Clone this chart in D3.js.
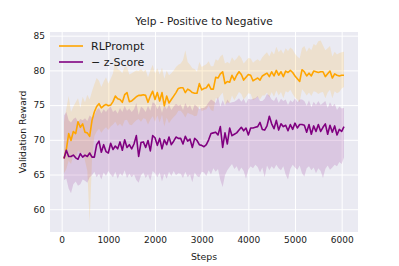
<!DOCTYPE html>
<html><head><meta charset="utf-8">
<script src="https://cdn.jsdelivr.net/npm/d3@7"></script>
<style>body{margin:0;background:#fff}svg{display:block}text{font-family:"DejaVu Sans",sans-serif;fill:#1a1a1a}</style>
</head><body><svg id="c" width="399" height="266"></svg>
<script>
const title = "Yelp - Positive to Negative";
const xLabel = "Steps";
const yLabel = "Validation Reward";
const xTicks = [0, 1000, 2000, 3000, 4000, 5000, 6000];
const yTicks = [60, 65, 70, 75, 80, 85];
const seriesNames = ["RLPrompt", "\u2212 z-Score"];
const steps = d3.range(50, 6051, 50);
const rlMean = [67.3,68.6,70.9,69.9,71.2,70.9,72.6,71.8,72.3,71.1,
71.0,70.5,72.8,74.0,74.8,75.2,74.6,74.9,75.1,74.9,
75.0,75.5,76.3,75.9,75.8,75.4,76.5,76.8,75.5,75.6,
75.9,76.2,76.4,76.4,76.5,76.4,75.4,76.3,77.0,75.8,
76.8,75.6,76.8,74.9,76.3,75.3,75.8,76.3,76.8,77.4,
77.5,77.5,76.8,77.3,77.1,76.8,76.7,76.7,78.1,77.2,
77.4,77.5,78.0,77.3,77.3,79.0,78.9,79.5,79.8,78.1,
78.4,78.3,79.3,78.6,79.3,79.8,79.4,78.6,79.0,79.4,
79.3,78.5,78.7,78.9,78.6,79.2,79.4,79.6,79.1,79.8,
79.2,80.0,79.3,79.8,79.1,79.9,79.7,80.0,79.7,79.2,
78.8,78.4,80.1,79.8,79.2,79.6,79.2,79.9,79.8,79.7,
79.8,79.8,79.1,79.5,79.9,78.9,79.5,79.3,79.2,79.3,
79.3];
const rlUpper = [72.5,74.5,76.3,74.0,74.8,75.4,76.0,74.6,76.2,75.4,
76.5,75.8,77.0,78.0,78.9,78.5,77.6,78.4,79.0,78.1,
78.8,79.6,81.5,80.2,80.0,79.6,80.6,80.5,79.4,79.6,
79.8,80.0,79.9,80.2,79.8,80.1,79.0,80.0,80.8,79.6,
80.3,79.4,80.4,78.8,80.0,79.3,79.6,80.0,80.5,80.8,
81.0,81.5,82.9,81.2,80.8,80.3,80.2,79.8,81.2,80.5,
80.7,80.9,81.3,80.6,80.6,81.6,81.4,82.0,82.3,81.0,
81.2,81.0,81.9,81.4,81.7,82.2,81.8,81.0,81.4,81.8,
81.7,81.1,81.4,81.6,81.3,81.9,82.3,82.6,82.0,82.8,
82.3,83.4,82.6,83.0,82.4,83.2,82.8,83.3,83.0,82.4,
82.0,81.7,83.2,83.5,82.7,83.3,82.9,83.8,83.6,84.2,
84.3,83.6,82.9,83.2,83.5,82.0,82.7,82.3,82.5,82.6,
82.7];
const rlLower = [65.2,65.8,67.0,66.5,67.8,67.2,68.5,68.0,68.2,67.0,
65.5,58.0,67.2,70.5,71.2,71.6,71.0,71.5,71.8,71.4,
71.9,72.2,72.6,72.0,72.3,71.9,72.8,72.9,72.2,72.1,
72.5,72.8,73.0,72.6,73.1,73.0,72.2,72.9,73.4,72.6,
73.5,72.5,73.6,71.9,73.2,72.4,72.9,73.3,73.6,74.2,
74.2,73.8,73.2,73.9,73.7,73.6,73.4,73.5,74.9,74.1,
74.3,74.4,74.9,74.3,74.1,76.0,75.9,76.4,76.8,75.0,
75.4,75.3,76.4,75.7,76.3,76.9,76.6,75.8,76.2,76.7,
76.6,75.7,75.9,76.2,75.8,76.4,76.4,76.8,76.1,76.9,
76.2,77.1,76.4,76.9,76.0,77.0,76.8,77.2,76.6,76.1,
75.8,75.4,77.3,76.9,76.4,76.8,76.3,77.0,76.9,76.6,
76.8,76.9,76.0,76.8,77.2,76.0,77.0,76.7,76.9,77.4,
77.6];
const zMean = [67.3,68.5,67.6,67.6,67.8,67.4,67.2,68.0,67.5,67.8,
67.6,68.1,67.5,67.5,69.3,69.8,68.2,69.3,68.3,68.1,
69.5,68.6,69.1,68.7,69.7,68.5,70.0,68.9,69.3,68.7,
69.4,70.6,67.6,69.6,69.7,68.9,69.9,68.4,70.6,70.3,
69.2,70.2,68.7,70.0,69.3,70.4,69.3,69.8,70.4,70.2,
70.2,69.4,70.5,69.8,70.1,68.9,70.2,69.9,69.3,69.2,
69.0,69.3,70.0,70.9,71.0,71.1,70.7,71.9,68.9,71.0,
69.4,71.7,70.6,70.8,71.0,71.4,71.8,71.3,71.7,70.7,
71.7,71.7,71.8,71.9,72.5,71.5,71.4,72.0,73.4,72.3,
71.6,72.8,71.4,72.3,71.9,72.1,71.3,72.2,71.5,72.4,
71.7,72.2,72.2,72.1,71.1,72.2,70.8,72.0,71.2,72.2,
71.2,71.8,72.3,70.8,72.1,71.1,72.0,70.7,71.5,71.2,
71.9];
const zUpper = [73.5,74.0,72.8,72.5,73.0,73.2,72.6,73.0,72.8,73.1,
72.7,73.5,73.2,73.5,74.3,74.6,73.8,74.4,74.0,74.5,
74.8,74.0,74.3,73.8,74.6,74.0,74.9,74.2,74.5,74.0,
74.4,75.3,73.6,74.8,74.5,74.0,74.9,74.2,75.4,75.2,
74.4,75.0,73.9,75.0,74.4,75.1,74.3,74.8,75.2,74.9,
75.1,74.3,75.3,74.6,75.0,74.2,75.1,74.8,74.4,74.6,
74.6,74.9,75.4,75.8,75.6,75.3,76.2,74.8,75.7,74.9,
75.8,75.3,75.4,75.5,75.7,76.0,75.5,75.9,75.2,75.9,
75.8,75.9,76.0,76.3,75.6,75.6,75.9,76.6,76.4,75.8,
75.6,76.2,75.3,75.9,75.6,75.8,75.0,75.7,75.4,76.0,
75.4,75.8,75.8,75.6,74.9,75.7,74.7,75.5,75.0,75.6,
75.0,75.3,75.6,74.6,75.4,74.8,75.2,74.3,74.8,74.5,
74.6];
const zLower = [64.2,64.4,63.0,62.3,63.6,64.0,63.4,63.6,64.3,64.1,
63.8,64.6,64.9,65.4,64.6,65.1,64.3,65.3,64.8,65.5,
65.0,64.6,65.4,64.4,65.2,64.8,65.6,64.5,65.1,64.6,
65.0,64.2,63.8,64.9,65.3,64.5,65.0,64.1,65.5,65.2,
64.6,65.3,64.0,65.1,64.4,65.4,64.8,65.5,64.9,65.2,
65.1,64.5,65.4,64.6,65.0,63.9,65.3,64.8,64.6,65.4,
65.3,64.8,65.6,65.0,65.9,65.4,65.8,64.2,63.2,64.9,
65.6,66.1,66.5,65.8,66.2,65.4,66.0,65.5,64.4,65.7,
66.2,65.9,66.4,66.1,65.3,66.0,64.6,66.3,65.6,66.2,
65.8,66.4,65.9,65.6,66.2,65.0,64.3,65.8,66.4,66.0,
65.7,66.3,65.2,64.7,65.9,66.2,65.6,66.0,65.2,65.9,
65.5,64.5,65.8,66.3,65.7,66.0,66.4,66.2,66.8,66.5,
67.5];

const colors = ["#ffa500", "#800080"];
const series = [
  {name: seriesNames[0], mean: rlMean, lo: rlLower, hi: rlUpper, color: colors[0]},
  {name: seriesNames[1], mean: zMean, lo: zLower, hi: zUpper, color: colors[1]}
];

const svg = d3.select("#c");
const L = 50, R = 358, T = 32, B = 232;
const x = d3.scaleLinear().domain([-250, 6350]).range([L, R]);
const y = d3.scaleLinear().domain([56.72, 85.53]).range([B, T]);

svg.append("rect").attr("x", L).attr("y", T).attr("width", R - L).attr("height", B - T).attr("fill", "#eaeaf2");

const gx = svg.append("g").attr("transform", `translate(0,${B})`)
  .call(d3.axisBottom(x).tickValues(xTicks).tickSize(-(B - T)).tickPadding(5).tickFormat(d3.format("d")));
const gy = svg.append("g").attr("transform", `translate(${L},0)`)
  .call(d3.axisLeft(y).tickValues(yTicks).tickSize(-(R - L)).tickPadding(5));
[gx, gy].forEach(g => {
  g.select(".domain").remove();
  g.selectAll(".tick line").attr("stroke", "#ffffff").attr("stroke-width", 1);
  g.selectAll(".tick text").attr("font-size", "9px").attr("fill", "#1a1a1a").style("font-family", "DejaVu Sans");
});
gy.selectAll(".tick text").attr("x", -5);

const clip = svg.append("clipPath").attr("id", "cp").append("rect")
  .attr("x", L).attr("y", T).attr("width", R - L).attr("height", B - T);
const plot = svg.append("g").attr("clip-path", "url(#cp)");

const area = d3.area().x((d, i) => x(steps[i])).y0(d => y(d[0])).y1(d => y(d[1]));
const line = d3.line().x((d, i) => x(steps[i])).y(d => y(d));

series.forEach(s => {
  plot.append("path").datum(s.lo.map((v, i) => [v, s.hi[i]]))
    .attr("d", area).attr("fill", s.color).attr("fill-opacity", 0.15).attr("stroke", "none");
});
series.forEach(s => {
  plot.append("path").datum(s.mean).attr("d", line)
    .attr("fill", "none").attr("stroke", s.color).attr("stroke-width", 1.6).attr("stroke-linejoin", "round");
});

// legend
series.forEach((s, i) => {
  const ly = 46 + i * 16;
  svg.append("line").attr("x1", 59).attr("x2", 83).attr("y1", ly).attr("y2", ly)
    .attr("stroke", s.color).attr("stroke-width", 1.6);
  svg.append("text").attr("x", 91).attr("y", ly + 4).attr("font-size", "11px").text(s.name);
});

svg.append("text").attr("x", (L + R) / 2).attr("y", 25).attr("text-anchor", "middle")
  .attr("font-size", "10.6px").text(title);
svg.append("text").attr("x", (L + R) / 2).attr("y", 259.5).attr("text-anchor", "middle")
  .attr("font-size", "9.4px").text(xLabel);
svg.append("text").attr("transform", `translate(22.5,132) rotate(-90)`).attr("text-anchor", "middle")
  .attr("dy", "0.35em").attr("font-size", "9.2px").text(yLabel);
</script></body></html>
